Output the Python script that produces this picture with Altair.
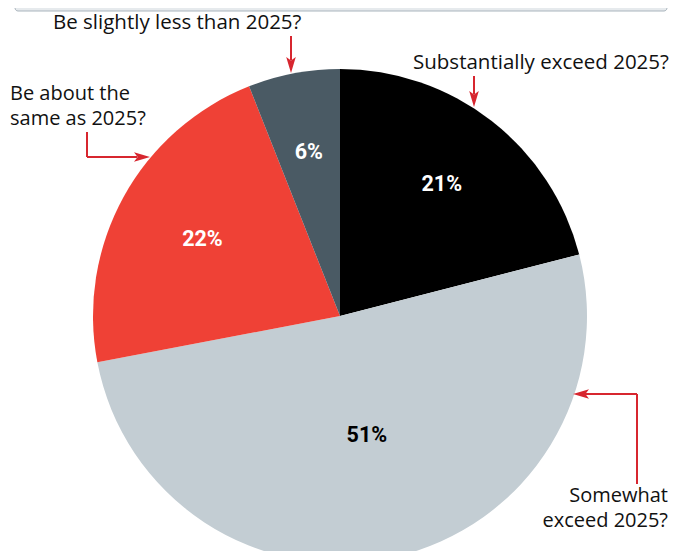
import altair as alt
import pandas as pd

# ---- data ----
categories = [
    "Substantially exceed 2025?",
    "Somewhat exceed 2025?",
    "Be about the same as 2025?",
    "Be slightly less than 2025?",
]
shares = [21, 51, 22, 6]
slice_colors = ["#000000", "#c3cdd3", "#ef4136", "#4a5a64"]

df = pd.DataFrame({"cat": categories, "share": shares, "idx": list(range(len(shares)))})
dummy = pd.DataFrame({"a": [0]})
TOTAL = sum(shares)

RED = "#d7262f"
FONT = "Open Sans"
PFONT = "Roboto"
OFF = 8  # page margin


def P(v):
    return v - OFF


CX, CY, R = P(340), P(316), 247
theta_scale = alt.Scale(domain=[0, TOTAL])

arcs = alt.Chart(df).mark_arc(outerRadius=R).encode(
    theta=alt.Theta("share:Q", stack=True, scale=theta_scale),
    order=alt.Order("idx:Q"),
    color=alt.Color("cat:N", scale=alt.Scale(domain=categories, range=slice_colors), legend=None),
    x=alt.value(CX),
    y=alt.value(CY),
)

labels = alt.Chart(df).transform_stack(
    stack="share", as_=["t0", "t1"], groupby=[], sort=[alt.SortField("idx", order="ascending")]
).transform_calculate(
    tm="(datum.t0 + datum.t1) / 2",
    lab="datum.share + '%'",
    r="datum.share > 40 ? 123 : (datum.share > 21 ? 157 : 166)",
).mark_text(font=PFONT, fontWeight="bold", fontSize=21.5, baseline="middle", align="center").encode(
    theta=alt.Theta("tm:Q", scale=theta_scale, stack=None),
    radius=alt.Radius("r:Q", scale=None),
    text="lab:N",
    color=alt.condition("datum.share > 40", alt.value("#000000"), alt.value("#ffffff")),
    x=alt.value(CX),
    y=alt.value(CY),
)


def vrule(x, y1, y2):
    return alt.Chart(dummy).mark_rule(color=RED, strokeWidth=2).encode(
        x=alt.value(P(x)), y=alt.value(P(y1)), y2=alt.value(P(y2))
    )


def hrule(x1, x2, y):
    return alt.Chart(dummy).mark_rule(color=RED, strokeWidth=2).encode(
        x=alt.value(P(x1)), x2=alt.value(P(x2)), y=alt.value(P(y))
    )


HEADS = {
    "down": "M0,1L-0.6,-1L0,-0.55L0.6,-1Z",
    "right": "M1,0L-1,-0.6L-0.55,0L-1,0.6Z",
    "left": "M-1,0L1,-0.6L0.55,0L1,0.6Z",
}


def head(x, y, d):
    return alt.Chart(dummy).mark_point(
        shape=HEADS[d], filled=True, color=RED, size=256, opacity=1, strokeWidth=0
    ).encode(x=alt.value(P(x)), y=alt.value(P(y)))


def label(txt, x, y, align="left", size=20.5):
    return alt.Chart(dummy).mark_text(
        text=txt, align=align, baseline="alphabetic", font=FONT, fontSize=size,
        color="#111111", lineBreak="\n", lineHeight=24.5,
    ).encode(x=alt.value(P(x)), y=alt.value(P(y)))


topbar = alt.Chart(dummy).mark_rect(
    fill="#e6eaed", stroke="#aab5bd", strokeWidth=1, cornerRadius=3
).encode(x=alt.value(P(15)), x2=alt.value(P(667)), y=alt.value(-4), y2=alt.value(3))

layers = [
    topbar,
    arcs,
    labels,
    # Be slightly less
    label("Be slightly less than 2025?", 53, 29),
    vrule(291, 36, 60),
    head(291, 65, "down"),
    # Substantially
    label("Substantially exceed 2025?", 413, 69),
    vrule(474, 76, 94),
    head(474, 99, "down"),
    # About the same
    label("Be about the\nsame as 2025?", 10, 100, size=20),
    vrule(87, 132, 157),
    hrule(87, 137, 157),
    head(142, 157, "right"),
    # Somewhat exceed
    label("Somewhat\nexceed 2025?", 668, 502, "right", size=20),
    vrule(637, 394, 484),
    hrule(585, 637, 394),
    head(581, 394, "left"),
]

chart = alt.layer(*layers).properties(
    width=661, height=543, autosize=alt.AutoSizeParams(type="none"), padding=0
).configure_view(stroke=None)

chart.save("out.html", embed_options={"renderer": "svg", "actions": False})
